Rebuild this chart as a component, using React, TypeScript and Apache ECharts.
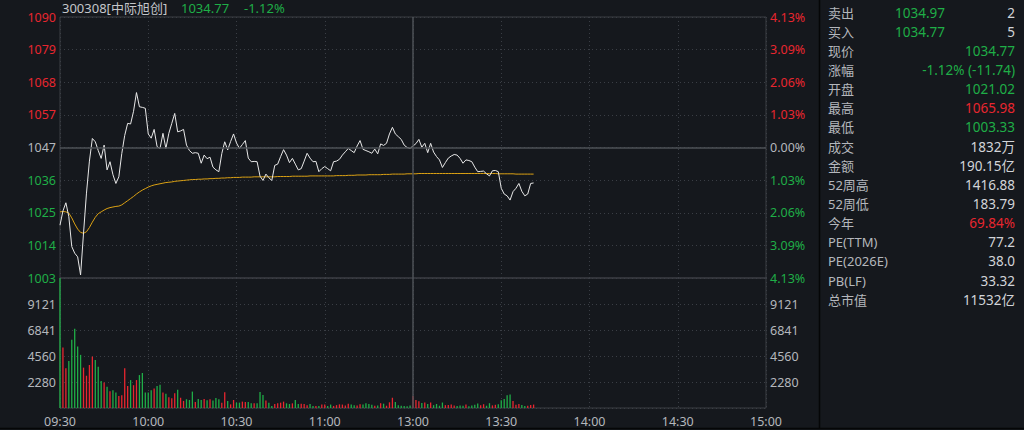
import { useEffect, useRef } from 'react';
import * as echarts from 'echarts';

// 昨收 and one grid step of the price axis (price units)
const PREV_CLOSE = 1046.51;
const STEP = 10.805;

const PRICE_TICKS = ['1090', '1079', '1068', '1057', '1047', '1036', '1025', '1014', '1003'];
const PCT_TICKS = ['4.13%', '3.09%', '2.06%', '1.03%', '0.00%', '1.03%', '2.06%', '3.09%', '4.13%'];
const TIME_TICKS = ['09:30', '10:00', '10:30', '11:00', '13:00', '13:30', '14:00', '14:30', '15:00'];
const VOL_MAX = 11401;
const VOL_STEP = 2280.2;

// minute prices, 09:30 -> 13:41
const PRICES = [
  1020.8, 1025.5, 1028.2, 1023.6, 1013.7, 1011.5, 1010.3, 1004.3, 1018.2, 1031.4,
  1042.0, 1049.5, 1048.4, 1045.5, 1042.9, 1047.3, 1039.1, 1041.8, 1037.5, 1034.6,
  1036.8, 1044.5, 1050.5, 1054.5, 1054.3, 1058.5, 1064.7, 1060.0, 1059.8, 1059.5,
  1051.0, 1049.6, 1052.5, 1046.8, 1046.2, 1051.2, 1046.2, 1051.2, 1054.5, 1057.8,
  1051.7, 1052.0, 1052.5, 1047.3, 1045.5, 1044.6, 1044.8, 1044.6, 1041.3, 1044.0,
  1042.8, 1043.3, 1040.0, 1039.1, 1038.5, 1044.5, 1048.4, 1045.7, 1048.5, 1051.0,
  1048.0, 1046.2, 1047.5, 1048.8, 1043.0, 1041.8, 1041.9, 1041.8, 1037.0, 1035.6,
  1037.7, 1036.5, 1035.6, 1040.6, 1041.0, 1043.5, 1045.8, 1044.0, 1041.5, 1042.9,
  1041.0, 1039.1, 1039.5, 1042.0, 1044.6, 1043.0, 1041.8, 1041.9, 1038.5, 1039.5,
  1040.2, 1039.5, 1038.8, 1041.8, 1042.0, 1042.6, 1044.0, 1045.1, 1046.2, 1045.5,
  1044.8, 1047.0, 1048.8, 1045.9, 1045.5, 1045.1, 1044.6, 1046.0, 1044.4, 1047.7,
  1047.2, 1047.9, 1051.0, 1053.2, 1051.0, 1050.1, 1049.2, 1047.3, 1046.5, 1046.2,
  1047.0, 1047.8, 1049.2, 1046.6, 1047.9, 1044.8, 1047.9, 1045.0, 1043.5, 1042.4,
  1039.9, 1041.5, 1043.0, 1043.7, 1044.2, 1044.0, 1042.9, 1041.3, 1042.4, 1042.2,
  1041.8, 1040.0, 1038.5, 1038.6, 1038.7, 1037.8, 1037.1, 1038.8, 1038.9, 1038.5,
  1033.0, 1031.1, 1030.5, 1029.1, 1031.9, 1033.0, 1034.6, 1032.0, 1030.5, 1031.1,
  1034.6, 1034.77,
];

// 均价
const AVG = [
  1025.2, 1025.3, 1025.2, 1024.8, 1023.2, 1021.2, 1019.5, 1018.4, 1018.1, 1018.6,
  1020.0, 1021.8, 1023.4, 1024.6, 1025.2, 1025.8, 1026.3, 1026.6, 1026.8, 1027.0,
  1027.1, 1027.5, 1028.2, 1028.9, 1029.6, 1030.3, 1031.1, 1031.8, 1032.4, 1032.9,
  1033.4, 1033.8, 1034.1, 1034.3, 1034.5, 1034.7, 1034.9, 1035.0, 1035.1, 1035.3,
  1035.4, 1035.5, 1035.6, 1035.7, 1035.8, 1035.9, 1035.9, 1036.0, 1036.0, 1036.1,
  1036.1, 1036.2, 1036.2, 1036.3, 1036.3, 1036.4, 1036.4, 1036.5, 1036.5, 1036.6,
  1036.6, 1036.6, 1036.7, 1036.7, 1036.7, 1036.7, 1036.8, 1036.8, 1036.8, 1036.8,
  1036.8, 1036.8, 1036.8, 1036.8, 1036.9, 1036.9, 1036.9, 1036.9, 1036.9, 1037.0,
  1037.0, 1037.0, 1037.0, 1037.0, 1037.0, 1037.1, 1037.1, 1037.1, 1037.1, 1037.1,
  1037.1, 1037.1, 1037.1, 1037.1, 1037.2, 1037.2, 1037.2, 1037.2, 1037.3, 1037.3,
  1037.3, 1037.4, 1037.4, 1037.4, 1037.4, 1037.5, 1037.5, 1037.5, 1037.5, 1037.5,
  1037.6, 1037.6, 1037.6, 1037.7, 1037.7, 1037.7, 1037.7, 1037.7, 1037.8, 1037.8,
  1037.8, 1037.8, 1037.9, 1037.9, 1037.9, 1037.9, 1037.9, 1037.9, 1037.9, 1037.9,
  1037.9, 1037.9, 1037.9, 1037.9, 1037.9, 1037.9, 1037.9, 1037.9, 1037.9, 1037.9,
  1037.9, 1037.9, 1037.9, 1037.9, 1037.9, 1037.9, 1037.9, 1037.9, 1037.9, 1037.8,
  1037.8, 1037.8, 1037.8, 1037.8, 1037.8, 1037.7, 1037.7, 1037.7, 1037.7, 1037.7,
  1037.7, 1037.7,
];

// 成交量 per minute
const VOLUMES = [
  11400, 5300, 3480, 4130, 5980, 6960, 5390, 4660, 3540, 2830,
  3770, 4510, 4220, 3620, 2360, 2240, 1860, 1470, 1560, 1360,
  1060, 1120, 3480, 1920, 2450, 2000, 2450, 2890, 3070, 1360,
  1360, 1560, 1710, 1920, 2030, 1350, 1240, 950, 850, 1300,
  1590, 900, 620, 770, 700, 1440, 530, 800, 700, 800,
  680, 770, 650, 880, 770, 470, 1390, 620, 320, 700,
  470, 470, 560, 530, 530, 410, 410, 410, 1410, 1150,
  650, 470, 180, 350, 410, 470, 560, 410, 350, 410,
  700, 350, 380, 350, 250, 350, 180, 180, 180, 300,
  300, 180, 300, 180, 250, 320, 300, 220, 380, 300,
  250, 220, 330, 300, 420, 350, 280, 200, 230, 420,
  380, 200, 500, 900, 530, 250, 200, 180, 150, 220,
  1060, 700, 600, 440, 480, 350, 480, 250, 350, 200,
  480, 250, 260, 300, 220, 180, 230, 200, 300, 150,
  220, 280, 400, 250, 330, 200, 420, 230, 280, 320,
  680, 800, 1120, 1180, 620, 290, 350, 270, 180, 190,
  270, 300,
];

const HEADER_NAME = '300308[中际旭创]';
const HEADER_PRICE = '1034.77';
const HEADER_CHG = '-1.12%';

const PANEL_LABELS = ['卖出', '买入', '现价', '涨幅', '开盘', '最高', '最低', '成交', '金额', '52周高', '52周低', '今年', 'PE(TTM)', 'PE(2026E)', 'PB(LF)', '总市值'];
const PANEL_MID = ['1034.97', '1034.77', '', '', '', '', '', '', '', '', '', '', '', '', '', ''];
const PANEL_VALUES = ['2', '5', '1034.77', '-1.12% (-11.74)', '1021.02', '1065.98', '1003.33', '1832万', '190.15亿', '1416.88', '183.79', '69.84%', '77.2', '38.0', '33.32', '11532亿'];
const PANEL_TONES = ['n', 'n', 'g', 'g', 'g', 'r', 'g', 'n', 'n', 'n', 'n', 'r', 'n', 'n', 'n', 'n'];

const BG = '#15181d';
const RED = '#e8262f';
const GREEN = '#1fae47';
const GREY = '#b4b7bc';
const LIGHT = '#d2d4d8';
const GRIDLINE = '#3a3e45';
const FONT = "'Noto Sans', 'Noto Sans CJK SC', sans-serif";

const toneColor = (t: string) => (t === 'g' ? GREEN : t === 'r' ? RED : LIGHT);
const signColor = (v: number) => (v > 0.001 ? RED : v < -0.001 ? GREEN : GREY);

export default function App() {
  const chartRef = useRef<HTMLDivElement>(null);

  useEffect(() => {
    document.body.style.margin = '0';
    document.body.style.background = BG;
    if (!chartRef.current) return;
    const chart = echarts.init(chartRef.current, null, { renderer: 'svg' });

    const priceData = PRICES.map((p, i) => [i, (p - PREV_CLOSE) / STEP]);
    const avgData = AVG.map((p, i) => [i, (p - PREV_CLOSE) / STEP]);
    const volData = VOLUMES.map((v, i) => {
      const down = i === 0 ? PRICES[0] < PREV_CLOSE : PRICES[i] < PRICES[i - 1];
      return { value: [i, v], itemStyle: { color: down ? GREEN : RED } };
    });

    const dotted = { show: true, lineStyle: { color: GRIDLINE, type: [1, 3] as number[], width: 1 } };
    const solidMark = (data: object[]) => ({
      silent: true,
      symbol: 'none',
      label: { show: false },
      lineStyle: { color: '#4d5056', type: 'solid' as const, width: 1.5 },
      data,
    });

    const panel: object[] = [];
    PANEL_LABELS.forEach((lab, i) => {
      const y = 12.5 + i * 19.15;
      panel.push({
        type: 'text', x: 828, y, silent: true,
        style: { text: lab, fill: GREY, fontSize: 13, fontFamily: FONT, align: 'left', verticalAlign: 'middle' },
      });
      if (PANEL_MID[i]) {
        panel.push({
          type: 'text', x: 945, y, silent: true,
          style: { text: PANEL_MID[i], fill: GREEN, fontSize: 13.5, fontFamily: FONT, align: 'right', verticalAlign: 'middle' },
        });
      }
      panel.push({
        type: 'text', x: 1015, y, silent: true,
        style: { text: PANEL_VALUES[i], fill: toneColor(PANEL_TONES[i]), fontSize: 13.5, fontFamily: FONT, align: 'right', verticalAlign: 'middle' },
      });
    });

    const option: echarts.EChartsOption = {
      animation: false,
      backgroundColor: BG,
      grid: [
        { left: 60, top: 17, width: 706, height: 261, show: true, borderColor: '#3c3f45', borderWidth: 1 },
        { left: 60, top: 278, width: 706, height: 130, show: true, borderColor: '#3c3f45', borderWidth: 1 },
      ],
      xAxis: [
        {
          gridIndex: 0, type: 'value', min: 0, max: 240, interval: 30,
          axisLine: { show: false }, axisTick: { show: false }, axisLabel: { show: false },
          splitLine: dotted,
        },
        {
          gridIndex: 1, type: 'value', min: 0, max: 240, interval: 30,
          axisLine: { show: false }, axisTick: { show: false },
          axisLabel: {
            color: GREY, fontSize: 12.5, fontFamily: FONT, margin: 7,
            formatter: (v: number) => TIME_TICKS[Math.round(v / 30)] ?? '',
          },
          splitLine: dotted,
        },
      ],
      yAxis: [
        {
          gridIndex: 0, type: 'value', position: 'left', min: -4, max: 4, interval: 1,
          axisLine: { show: false }, axisTick: { show: false },
          axisLabel: {
            fontSize: 12.5, fontFamily: FONT, margin: 4,
            color: ((v: number) => signColor(Number(v))) as unknown as string,
            formatter: (v: number) => PRICE_TICKS[4 - Math.round(v)] ?? '',
          },
          splitLine: dotted,
        },
        {
          gridIndex: 0, type: 'value', position: 'right', min: -4, max: 4, interval: 1,
          axisLine: { show: false }, axisTick: { show: false },
          axisLabel: {
            fontSize: 12.5, fontFamily: FONT, margin: 4,
            color: ((v: number) => signColor(Number(v))) as unknown as string,
            formatter: (v: number) => PCT_TICKS[4 - Math.round(v)] ?? '',
          },
          splitLine: { show: false },
        },
        {
          gridIndex: 1, type: 'value', position: 'left', min: 0, max: VOL_MAX, interval: VOL_STEP,
          axisLine: { show: false }, axisTick: { show: false },
          axisLabel: {
            color: GREY, fontSize: 12.5, fontFamily: FONT, margin: 4,
            formatter: (v: number) => (v <= 0 || v > VOL_MAX - 100 ? '' : String(Math.round(v))),
          },
          splitLine: dotted,
        },
        {
          gridIndex: 1, type: 'value', position: 'right', min: 0, max: VOL_MAX, interval: VOL_STEP,
          axisLine: { show: false }, axisTick: { show: false },
          axisLabel: {
            color: GREY, fontSize: 12.5, fontFamily: FONT, margin: 4,
            formatter: (v: number) => (v <= 0 || v > VOL_MAX - 100 ? '' : String(Math.round(v))),
          },
          splitLine: { show: false },
        },
      ],
      series: [
        {
          name: '价格', type: 'line', xAxisIndex: 0, yAxisIndex: 0, data: priceData,
          symbol: 'none', lineStyle: { color: '#e8e8e8', width: 1 }, itemStyle: { color: '#e8e8e8' },
          markLine: solidMark([{ yAxis: 0 }, { xAxis: 120 }]),
          z: 3,
        },
        {
          name: '均价', type: 'line', xAxisIndex: 0, yAxisIndex: 0, data: avgData,
          symbol: 'none', lineStyle: { color: '#dca214', width: 1 }, itemStyle: { color: '#dca214' },
          z: 2,
        },
        {
          name: '成交量', type: 'bar', xAxisIndex: 1, yAxisIndex: 2, data: volData,
          barWidth: 1.3,
          markLine: solidMark([{ xAxis: 120 }]),
        },
      ],
      graphic: [
        {
          type: 'text', x: 62, y: 8, silent: true,
          style: { text: HEADER_NAME, fill: '#c4c6ca', fontSize: 13, fontFamily: FONT, verticalAlign: 'middle' },
        },
        {
          type: 'text', x: 181, y: 8, silent: true,
          style: { text: HEADER_PRICE, fill: GREEN, fontSize: 13, fontFamily: FONT, verticalAlign: 'middle' },
        },
        {
          type: 'text', x: 244, y: 8, silent: true,
          style: { text: HEADER_CHG, fill: GREEN, fontSize: 13, fontFamily: FONT, verticalAlign: 'middle' },
        },
        {
          type: 'line', silent: true,
          shape: { x1: 819.5, y1: 0, x2: 819.5, y2: 428 },
          style: { stroke: '#050607', lineWidth: 1.5 },
        },
        {
          type: 'line', silent: true,
          shape: { x1: 0, y1: 428.5, x2: 1024, y2: 428.5 },
          style: { stroke: '#050607', lineWidth: 1.5 },
        },
        ...panel,
      ] as echarts.GraphicComponentOption[],
    };

    chart.setOption(option);
    return () => {
      chart.dispose();
    };
  }, []);

  return <div ref={chartRef} style={{ width: 1024, height: 430 }} />;
}
